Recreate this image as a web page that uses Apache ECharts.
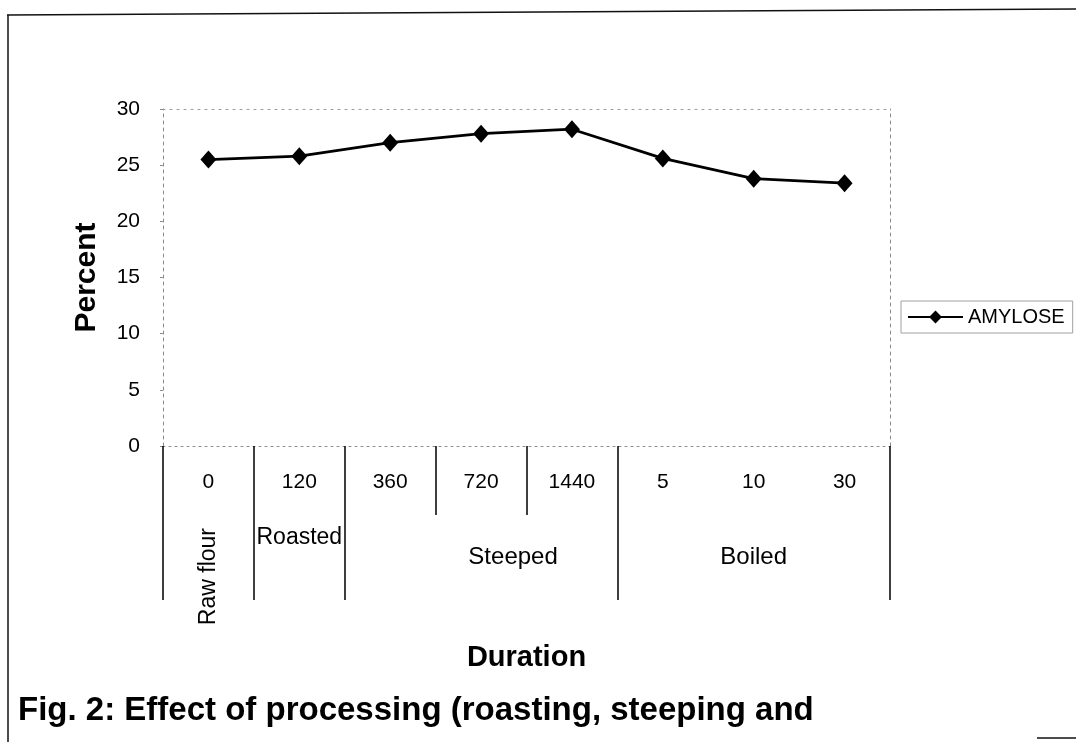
<!DOCTYPE html>
<html>
<head>
<meta charset="utf-8">
<script src="https://cdn.jsdelivr.net/npm/echarts@6/dist/echarts.min.js"></script>
<style>
html,body{margin:0;padding:0;background:#fff;}
#chart{width:1076px;height:742px;}
</style>
</head>
<body>
<div id="chart"></div>
<script>
// ---- data ----
const categories = ['0', '120', '360', '720', '1440', '5', '10', '30'];
const groupLabels = ['', 'Roasted', '', 'Steeped', '', '', 'Boiled', ''];
const rotatedGroupLabels = ['Raw flour', '', '', '', '', '', '', ''];
const groupBoundaryIdx = [0, 1, 2, 5];
const subBoundaryIdx = [3, 4];
const seriesName = 'AMYLOSE';
const amylose = [25.5, 25.8, 27.0, 27.8, 28.2, 25.6, 23.8, 23.4];
const yMin = 0, yMax = 30, yStep = 5;
const xTitle = 'Duration';
const yTitle = 'Percent';
const figCaption = 'Fig. 2: Effect of processing (roasting, steeping and';

const FONT = '"Liberation Sans", Arial, sans-serif';
const chart = echarts.init(document.getElementById('chart'), null, {renderer: 'canvas'});

const option = {
  animation: false,
  backgroundColor: '#ffffff',
  grid: {left: 163, right: 186, top: 109, bottom: 296, containLabel: false},
  legend: {
    data: [seriesName],
    left: 901, top: 301,
    orient: 'vertical',
    padding: [6, 8, 6, 6],
    itemWidth: 55, itemHeight: 16,
    itemGap: 0,
    borderColor: '#a0a0a0', borderWidth: 1,
    textStyle: {fontFamily: FONT, fontSize: 20, color: '#000'}
  },
  xAxis: [
    {
      type: 'category', data: categories, position: 'bottom', gridIndex: 0,
      boundaryGap: true,
      axisLine: {show: true, lineStyle: {color: '#8a8a8a', width: 1, type: [2, 4]}},
      axisTick: {show: true, length: 69,
        interval: function (i) { return subBoundaryIdx.indexOf(i) >= 0; },
        lineStyle: {color: '#000', width: 1.5}},
      axisLabel: {fontFamily: FONT, fontSize: 21, color: '#000', margin: 26, interval: 0},
      name: xTitle, nameLocation: 'middle', nameGap: 197,
      nameTextStyle: {fontFamily: FONT, fontSize: 29, fontWeight: 'bold', color: '#000'}
    },
    {
      type: 'category', data: categories, position: 'bottom', gridIndex: 0,
      axisLine: {show: false},
      axisTick: {show: true, length: 154,
        interval: function (i) { return groupBoundaryIdx.indexOf(i) >= 0; },
        lineStyle: {color: '#000', width: 1.5}},
      axisLabel: {show: false}
    },
    {
      type: 'category', data: groupLabels, position: 'bottom', gridIndex: 0,
      axisLine: {show: false}, axisTick: {show: false},
      axisLabel: {
        interval: 0, margin: 80, color: '#000', fontFamily: FONT, fontSize: 23,
        formatter: function (v) {
          if (!v) return '';
          if (v === 'Roasted') return '{a|' + v + '}';
          if (v === 'Steeped') return '{c|' + v + '}';
          return '{b|' + v + '}';
        },
        rich: {
          a: {fontFamily: FONT, fontSize: 23, color: '#000'},
          b: {fontFamily: FONT, fontSize: 24, color: '#000', padding: [19, 0, 0, 0]},
          c: {fontFamily: FONT, fontSize: 24, color: '#000', padding: [19, 0, 0, 64]}
        }
      }
    },
    {
      type: 'category', data: rotatedGroupLabels, position: 'bottom', gridIndex: 0,
      axisLine: {show: false}, axisTick: {show: false},
      axisLabel: {interval: 0, rotate: 90, margin: 82, color: '#000', fontFamily: FONT, fontSize: 23}
    },
    {
      type: 'category', data: categories, position: 'top', gridIndex: 0,
      axisLine: {show: true, lineStyle: {color: '#9a9a9a', width: 1, type: [2, 5]}},
      axisTick: {show: false}, axisLabel: {show: false}
    }
  ],
  yAxis: [
    {
      type: 'value', min: yMin, max: yMax, interval: yStep, position: 'left',
      axisLine: {show: true, lineStyle: {color: '#8a8a8a', width: 1, type: [3, 4]}},
      axisTick: {show: true, length: 3, lineStyle: {color: '#8a8a8a'}},
      splitLine: {show: false},
      axisLabel: {fontFamily: FONT, fontSize: 21, color: '#000', margin: 23},
      name: yTitle, nameLocation: 'middle', nameGap: 61, nameRotate: 90,
      nameTextStyle: {fontFamily: FONT, fontSize: 30, fontWeight: 'bold', color: '#000'}
    },
    {
      type: 'value', min: yMin, max: yMax, interval: yStep, position: 'right',
      axisLine: {show: true, lineStyle: {color: '#8a8a8a', width: 1, type: [3, 4]}},
      axisTick: {show: false}, axisLabel: {show: false}, splitLine: {show: false}
    }
  ],
  series: [
    {
      name: seriesName, type: 'line', xAxisIndex: 0, yAxisIndex: 0,
      data: amylose,
      symbol: 'diamond', symbolSize: [16, 18],
      lineStyle: {color: '#000', width: 2.8},
      itemStyle: {color: '#000'},
      emphasis: {disabled: true}
    }
  ],
  graphic: [
    {type: 'line', shape: {x1: 7, y1: 15, x2: 1076, y2: 9}, style: {stroke: '#111', lineWidth: 1.5}, silent: true},
    {type: 'line', shape: {x1: 8, y1: 15, x2: 8, y2: 742}, style: {stroke: '#111', lineWidth: 1.5}, silent: true},
    {type: 'line', shape: {x1: 1037, y1: 738, x2: 1076, y2: 738}, style: {stroke: '#111', lineWidth: 1.5}, silent: true},
    {type: 'text', left: 18, top: 694, silent: true,
      style: {text: figCaption, font: 'bold 33px "Liberation Sans", Arial, sans-serif', fill: '#000'}}
  ]
};
chart.setOption(option);
</script>
</body>
</html>
